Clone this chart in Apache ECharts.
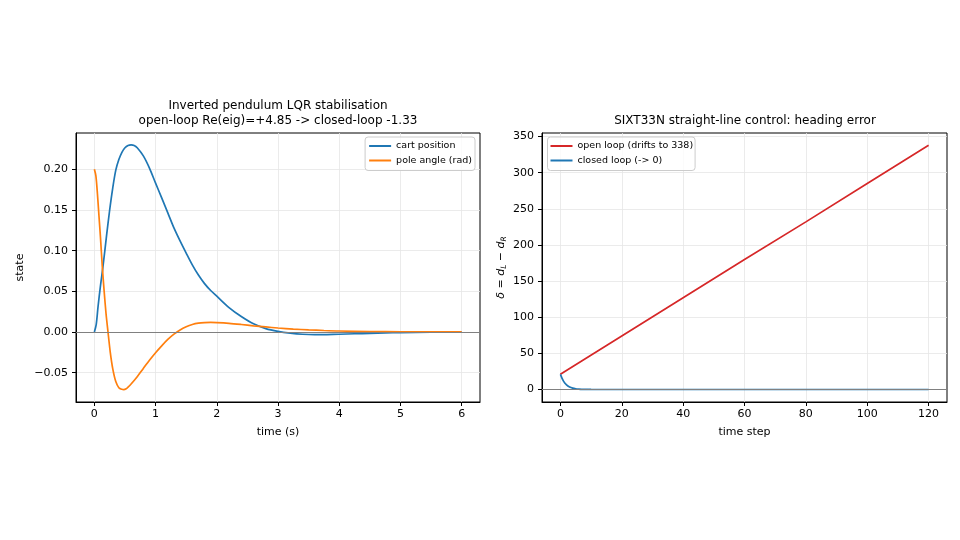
<!DOCTYPE html>
<html lang="en">
<head>
<meta charset="UTF-8">
<title>LQR / SIXT33N</title>
<script src="https://cdn.jsdelivr.net/npm/echarts@6/dist/echarts.min.js"></script>
<style>
  html, body { margin: 0; padding: 0; background: #fff; }
  #main { width: 960px; height: 540px; }
</style>
</head>
<body>
<div id="main"></div>
<script>
// left panel: inverted pendulum
var cartT = [0, 0.03, 0.06, 0.1, 0.14, 0.2, 0.25, 0.3, 0.35, 0.4, 0.45, 0.5, 0.55, 0.6, 0.65, 0.7, 0.8, 0.9,
             1.0, 1.1, 1.2, 1.3, 1.4, 1.5, 1.6, 1.7, 1.8, 1.9, 2.0, 2.2, 2.4, 2.6, 2.8, 3.0, 3.2, 3.4, 3.6,
             3.8, 4.0, 4.25, 4.5, 4.75, 5.0, 5.5, 6.0];
var cartY = [0, 0.009, 0.031, 0.057, 0.080, 0.119, 0.150, 0.177, 0.199, 0.212, 0.221, 0.2265, 0.2293, 0.2300, 0.2293, 0.2265, 0.2165, 0.2015,
             0.183, 0.165, 0.1465, 0.128, 0.112, 0.097, 0.0825, 0.070, 0.0595, 0.051, 0.044, 0.030, 0.019, 0.010, 0.0042, 0.0008, -0.0014, -0.0028, -0.0033,
             -0.0032, -0.0028, -0.0022, -0.0016, -0.0011, -0.0007, -0.0002, 0];
var poleT = [0, 0.025, 0.05, 0.075, 0.1, 0.13, 0.16, 0.19, 0.22, 0.26, 0.3, 0.35, 0.4, 0.45, 0.48, 0.52, 0.55, 0.6, 0.66,
             0.7, 0.8, 0.9, 1.0, 1.1, 1.2, 1.3, 1.4, 1.5, 1.6, 1.7, 1.8, 1.9, 2.0, 2.2, 2.4, 2.6, 2.8, 3.0,
             3.25, 3.5, 3.75, 4.0, 4.5, 5.0, 5.5, 6.0];
var poleY = [0.200, 0.192, 0.170, 0.143, 0.116, 0.080, 0.050, 0.023, 0.002, -0.025, -0.045, -0.061, -0.0685, -0.0705, -0.0708, -0.0698, -0.0678, -0.064, -0.0588,
             -0.055, -0.0448, -0.0348, -0.0255, -0.017, -0.0092, -0.0027, 0.0025, 0.0064, 0.0092, 0.0108, 0.0115, 0.0117, 0.0115, 0.0106, 0.0092, 0.0076, 0.0062, 0.0049,
             0.0036, 0.0026, 0.0018, 0.0012, 0.0006, 0.0003, 0.0001, 0.0001];
var leftXTicks = [0, 1, 2, 3, 4, 5, 6];
var leftYTicks = [-0.05, 0, 0.05, 0.10, 0.15, 0.20];

// right panel: heading error
var openStep = [0, 20, 40, 60, 80, 100, 120];
var openVal = [21, 74, 127, 180, 232, 285, 338];
var closedStep = [0, 1, 2, 3, 4, 5, 6, 7, 8, 9, 10, 12, 15, 20, 120];
var closedVal = [21, 11.5, 6.4, 3.5, 1.9, 1.05, 0.6, 0.3, 0.17, 0.1, 0.05, 0.02, 0, 0, 0];
var rightXTicks = [0, 20, 40, 60, 80, 100, 120];
var rightYTicks = [0, 50, 100, 150, 200, 250, 300, 350];

function pairs(xs, ys) {
  return xs.map(function (x, i) { return [x, ys[i]]; });
}
function onTicks(ticks, fmt) {
  return function (v) {
    for (var i = 0; i < ticks.length; i++) {
      if (Math.abs(v - ticks[i]) < 1e-9) return fmt(ticks[i]);
    }
    return '';
  };
}
function minus(s) { return String(s).replace('-', '\u2212'); }

var FONT = 'DejaVu Sans';
var zeroLine = {
  silent: true, symbol: 'none', label: { show: false },
  lineStyle: { color: '#808080', width: 1, type: 'solid' },
  data: [{ yAxis: 0 }]
};

function axisCommon(ticks, fmt, name, gap) {
  return {
    type: 'value',
    name: name, nameLocation: 'middle', nameGap: gap,
    nameTextStyle: { fontFamily: FONT, fontSize: 11, color: '#000' },
    axisLine: { show: true, onZero: false, lineStyle: { color: '#000', width: 1 } },
    axisTick: { show: true, length: 4, inside: false, customValues: ticks, lineStyle: { color: '#000', width: 1 } },
    axisLabel: { fontFamily: FONT, fontSize: 11, color: '#000', margin: 7,
                 customValues: ticks, formatter: onTicks(ticks, fmt) },
    splitLine: { show: true, lineStyle: { color: '#e6e6e6', width: 0.8 } }
  };
}

var chart = echarts.init(document.getElementById('main'));

var xL = axisCommon(leftXTicks, function (v) { return String(v); }, 'time (s)', 25);
xL.gridIndex = 0; xL.min = -0.3; xL.max = 6.3; xL.splitNumber = 6;
var yL = axisCommon(leftYTicks, function (v) { return minus(v.toFixed(2)); }, 'state', 50);
yL.gridIndex = 0; yL.min = -0.0861; yL.max = 0.2447; yL.splitNumber = 5; yL.axisLabel.margin = 8;

var xR = axisCommon(rightXTicks, function (v) { return String(v); }, 'time step', 25);
xR.gridIndex = 1; xR.min = -6; xR.max = 126; xR.splitNumber = 6;
var yR = axisCommon(rightYTicks, function (v) { return String(v); },
  '{i|\u03b4} = {i|d}{s|L} \u2212 {i|d}{s|R}', 34);
yR.gridIndex = 1; yR.min = -17.3; yR.max = 355; yR.splitNumber = 8; yR.axisLabel.margin = 8;
yR.nameTextStyle.rich = {
  i: { fontFamily: FONT, fontSize: 11, fontStyle: 'italic', color: '#000', lineHeight: 14, verticalAlign: 'middle' },
  s: { fontFamily: FONT, fontSize: 7.5, fontStyle: 'italic', color: '#000', lineHeight: 14, verticalAlign: 'bottom' }
};
yR.nameTextStyle.lineHeight = 14;

var legendBase = {
  orient: 'vertical', icon: 'rect', itemWidth: 22, itemHeight: 2, itemGap: 2.5,
  backgroundColor: 'rgba(255,255,255,0.8)', borderColor: '#cccccc', borderWidth: 1, borderRadius: 3,
  textStyle: { fontFamily: FONT, fontSize: 9.5, color: '#000', lineHeight: 12 }
};

var option = {
  animation: false,
  backgroundColor: '#fff',
  title: [
    { text: 'Inverted pendulum LQR stabilisation\nopen-loop Re(eig)=+4.85 -> closed-loop -1.33',
      left: 278, top: 98.5, textAlign: 'center', padding: 0,
      textStyle: { fontFamily: FONT, fontSize: 12, fontWeight: 'normal', color: '#000', lineHeight: 15 } },
    { text: 'SIXT33N straight-line control: heading error',
      left: 745, top: 113.5, textAlign: 'center', padding: 0,
      textStyle: { fontFamily: FONT, fontSize: 12, fontWeight: 'normal', color: '#000', lineHeight: 15 } }
  ],
  legend: [
    Object.assign({}, legendBase, { data: ['cart position', 'pole angle (rad)'], right: 485, top: 137, padding: [3, 3, 4, 4] }),
    Object.assign({}, legendBase, { data: ['open loop (drifts to 338)', 'closed loop (-> 0)'], left: 547.5, top: 137, padding: [3, 2, 4, 3] })
  ],
  grid: [
    { left: 76, right: 480, top: 133, bottom: 138, show: true, borderColor: '#000', borderWidth: 1, backgroundColor: 'transparent' },
    { left: 542, right: 13, top: 133, bottom: 138, show: true, borderColor: '#000', borderWidth: 1, backgroundColor: 'transparent' }
  ],
  xAxis: [xL, xR],
  yAxis: [yL, yR],
  series: [
    { name: 'cart position', type: 'line', xAxisIndex: 0, yAxisIndex: 0, data: pairs(cartT, cartY),
      symbol: 'none', smooth: 0.3, lineStyle: { color: '#1f77b4', width: 1.7 }, itemStyle: { color: '#1f77b4' },
      markLine: zeroLine, z: 3 },
    { name: 'pole angle (rad)', type: 'line', xAxisIndex: 0, yAxisIndex: 0, data: pairs(poleT, poleY),
      symbol: 'none', smooth: 0.3, lineStyle: { color: '#ff7f0e', width: 1.7 }, itemStyle: { color: '#ff7f0e' }, z: 4 },
    { name: 'open loop (drifts to 338)', type: 'line', xAxisIndex: 1, yAxisIndex: 1, data: pairs(openStep, openVal),
      symbol: 'none', lineStyle: { color: '#d62728', width: 1.7 }, itemStyle: { color: '#d62728' },
      markLine: zeroLine, z: 3 },
    { name: 'closed loop (-> 0)', type: 'line', xAxisIndex: 1, yAxisIndex: 1, data: pairs(closedStep, closedVal),
      symbol: 'none', smooth: 0.3, lineStyle: { color: '#1f77b4', width: 1.7 }, itemStyle: { color: '#1f77b4' }, z: 4 }
  ]
};
chart.setOption(option);
</script>
</body>
</html>
